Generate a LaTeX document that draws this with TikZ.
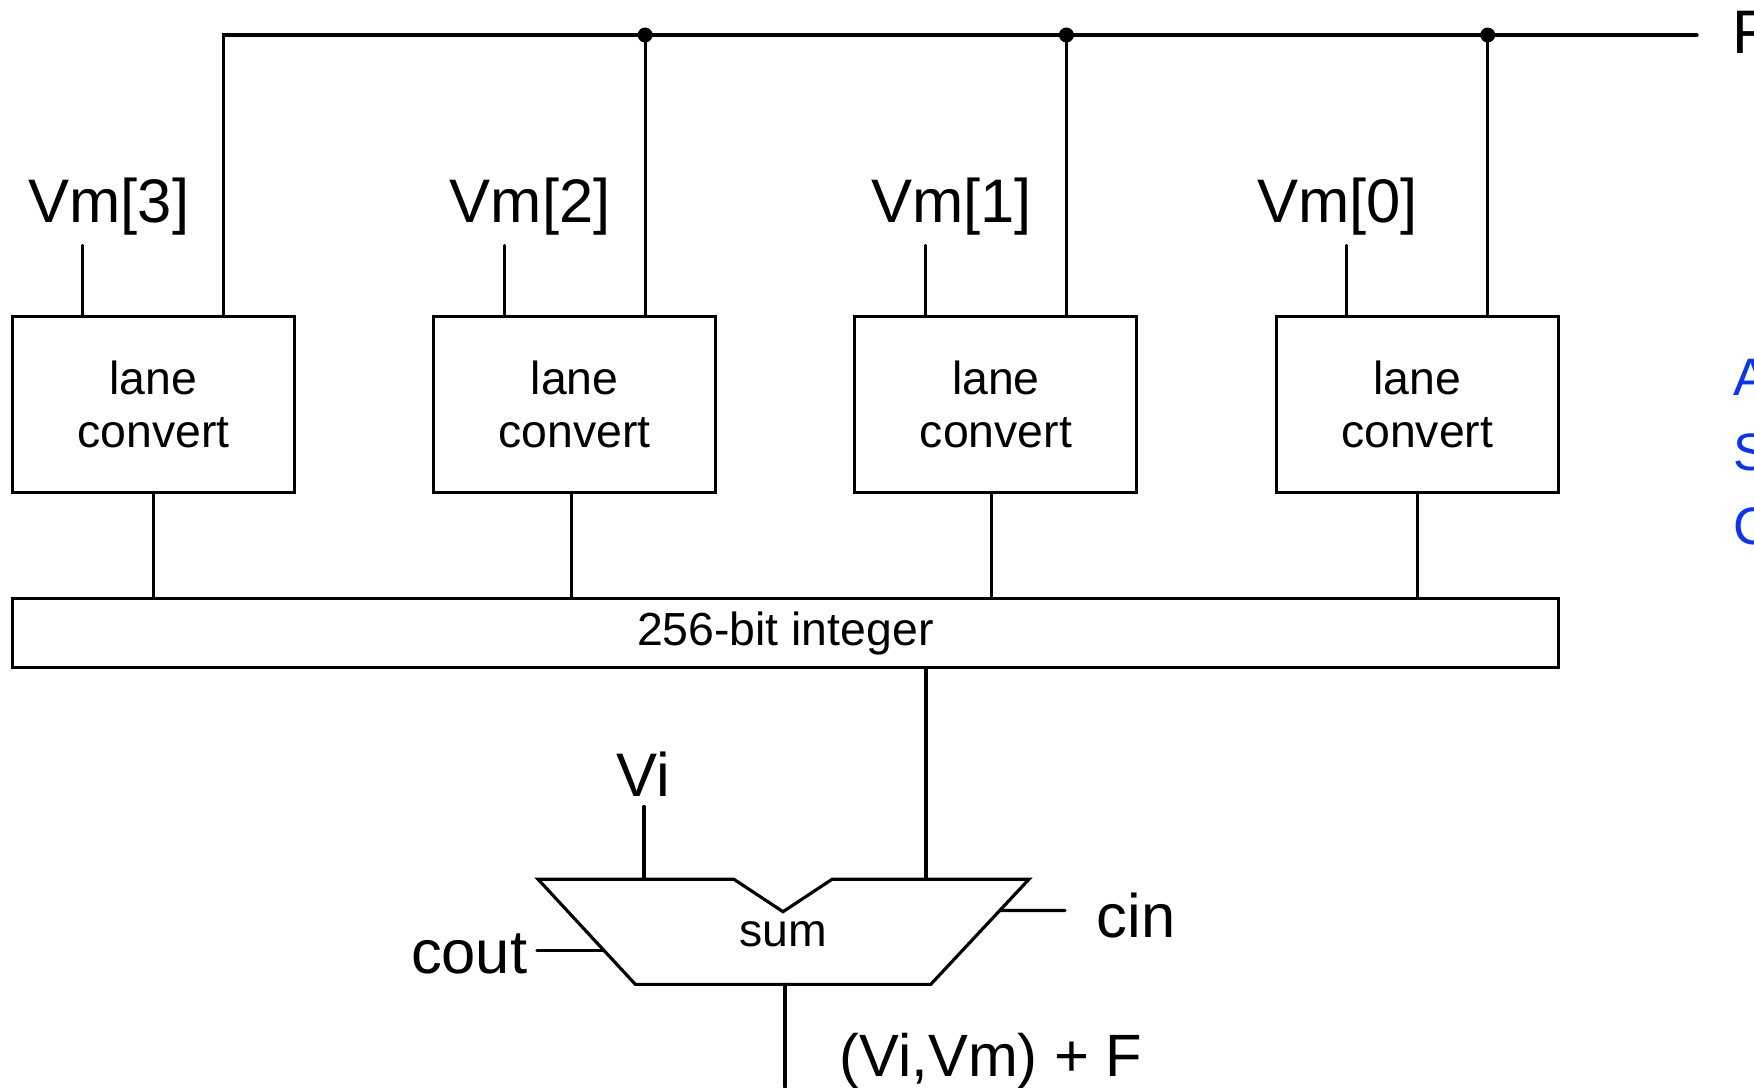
\documentclass[tikz,border=0pt]{standalone}
\usepackage{fontspec}
\setmainfont{Liberation Sans}
\usetikzlibrary{positioning,calc}
\definecolor{linkblue}{RGB}{10,50,255}
\newcommand{\lane}[4]{%
  \node[lbox] (#1) at (0,6.826) {lane\\convert};
  \coordinate (#1vm) at ($(#1.north)+(-0.705,0.696)$);
  \coordinate (#1bus) at ($(#1.north)+(0.705,0)$);
  \draw[wire] (#1vm |- #1.north) -- (#1vm);
  \node[big, anchor=base] (#1lbl) at ($(#1vm)+(#3,0.23)$) {#2};
  \coordinate (#1out) at ($(#1.south)+(#4,0)$);
  \draw[wire] (#1out) -- (#1out |- int.north);}
\tikzset{
  wire/.style={line width=0.9pt, line cap=round},
  lbox/.style={draw, line width=0.9pt, minimum width=2.82cm, minimum height=1.756cm,
    inner sep=0pt, align=center, font=\fontsize{13.2}{15.3}\selectfont},
  big/.style={inner sep=0pt, font=\fontsize{17.5}{20}\selectfont},
  small/.style={inner sep=0pt, font=\fontsize{13.2}{15.3}\selectfont},
  note/.style={inner sep=0pt, anchor=base west, text=linkblue, font=\fontsize{15}{18}\selectfont},
  jdot/.style={circle, fill, inner sep=0pt, minimum size=0.15cm},
}
\begin{document}
\begin{tikzpicture}[x=1cm,y=1cm]
\useasboundingbox (0,0) rectangle (17.54,10.87);
\node[draw, line width=0.9pt, minimum width=15.459cm, minimum height=0.693cm,
  inner sep=0pt, font=\fontsize{13.2}{15.3}\selectfont] (int) at (7.853,4.539) {256-bit integer};
\begin{scope}[xshift=1.533cm]
  \lane{l3}{Vm[3]}{0.26}{0}
\end{scope}
\begin{scope}[xshift=5.746cm]
  \lane{l2}{Vm[2]}{0.26}{-0.03}
\end{scope}
\begin{scope}[xshift=9.959cm]
  \lane{l1}{Vm[1]}{0.26}{-0.04}
\end{scope}
\begin{scope}[xshift=14.172cm]
  \lane{l0}{Vm[0]}{-0.09}{0}
\end{scope}
% F bus across the top
\coordinate (busend) at (16.97,10.52);
\node[big, anchor=base west] (flbl) at (17.316,10.34) {F};
\draw[wire] (l3bus) |- (busend);
\foreach \n in {l2,l1,l0} {
  \draw[wire] (\n bus) -- (\n bus |- busend);
  \node[jdot] (\n dot) at (\n bus |- busend) {};
}
\node[note] (na) at (17.33,6.92) {A};
\node[note] (ns) at (17.33,6.17) {S};
\node[note] (nc) at (17.33,5.43) {C};
% adder
\coordinate (sumtl) at (5.38,2.078);
\coordinate (sumtr) at (10.29,2.078);
\coordinate (sumbr) at (9.307,1.026);
\coordinate (sumbl) at (6.354,1.026);
\draw[wire, line join=miter] (sumtl) -- (7.338,2.078) -- (7.83,1.753) -- (8.322,2.078)
  -- (sumtr) -- (sumbr) -- (sumbl) -- cycle;
\node[small, anchor=base] (sumlbl) at (7.83,1.41) {sum};
\coordinate (sumb) at (9.26,2.078);
\draw[wire] (int.south -| sumb) -- (sumb);
\coordinate (suma) at (6.44,2.078);
\coordinate (viend) at (6.44,2.805);
\draw[wire] (suma) -- (viend);
\node[big, anchor=base] (vilbl) at (6.43,2.905) {Vi};
\coordinate (coutp) at ($(sumtl)!0.68!(sumbl)$);
\node[big, anchor=base east] (cout) at (5.28,1.14) {cout};
\draw[wire] (coutp) -- ($(cout.east |- coutp)+(0.09,0)$);
\coordinate (cinp) at ($(sumtr)!0.2975!(sumbr)$);
\coordinate (cinend) at (10.65,1.765);
\draw[wire] (cinp) -- (cinend);
\node[big, anchor=base west] (cin) at (10.96,1.50) {cin};
\coordinate (sumo) at (7.85,1.026);
\coordinate (outend) at (7.85,0);
\draw[wire] (sumo) -- (outend);
\node[big, anchor=base west, font=\fontsize{17}{20}\selectfont] (outlbl) at (8.39,0.11) {(Vi,Vm) + F};
\end{tikzpicture}
\end{document}
